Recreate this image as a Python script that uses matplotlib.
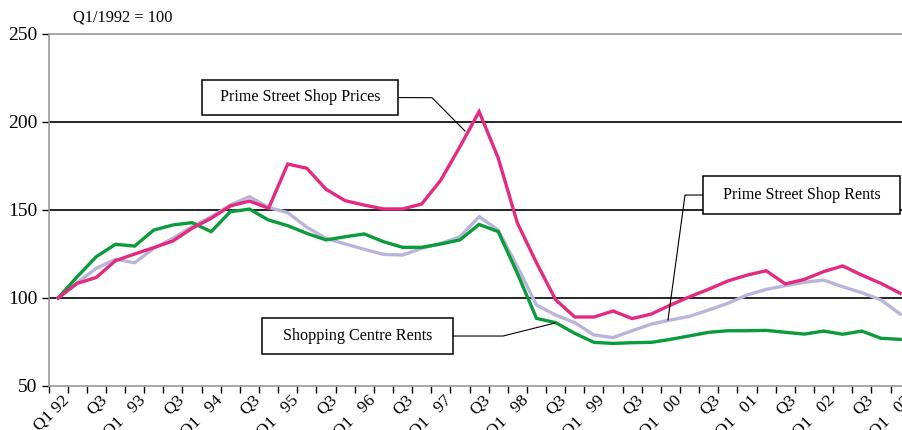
import numpy as np
import matplotlib.pyplot as plt
from matplotlib.patches import Rectangle

plt.rcParams['font.family'] = ['Liberation Serif', 'DejaVu Serif']

# quarterly index values, Q1 1992 .. Q1 2003 (Q1/1992 = 100)
shop_prices = [100, 108.3, 111.7, 121.2, 125, 128.6, 132.4, 139.6, 145.3, 152.3,
               155.1, 151, 176.1, 173.7, 161.8, 155.3, 152.8, 150.6, 150.6, 153.4,
               167, 186, 205.9, 179.5, 142.6, 120, 99, 89.2, 89.2, 92.6,
               88.3, 90.9, 96, 100.7, 105, 109.7, 113, 115.5, 108, 110.6,
               115, 118.2, 113, 108.3, 102.7]
shop_rents = [100, 108.7, 116.9, 122, 120, 128.2, 133.9, 140.5, 146.2, 152.8,
              157.6, 151.5, 148.5, 140.2, 133.9, 130.7, 127.7, 124.8, 124.4, 128.2,
              131, 134.8, 146.2, 138.6, 117.8, 96, 90.3, 86, 79, 77.5,
              81.4, 85.2, 87.5, 89.6, 93.2, 97, 101.7, 104.9, 107, 108.9,
              110.2, 106.4, 103, 98.9, 90.9]
centre_rents = [100, 112.1, 123.5, 130.5, 129.5, 138.6, 141.5, 142.8, 137.7, 149,
                150.5, 144.3, 141.1, 136.7, 133, 134.8, 136.4, 132, 128.8, 128.8,
                130.7, 133, 141.8, 137.7, 114, 88.4, 86, 79.9, 74.8, 74.2,
                74.6, 74.8, 76.5, 78.5, 80.5, 81.4, 81.4, 81.6, 80.5, 79.5,
                81.2, 79.4, 81.2, 77.1, 76.5]

years = ['92', '93', '94', '95', '96', '97', '98', '99', '00', '01', '02', '03']
tick_labels = []
for k, yr in enumerate(years):
    tick_labels.append('Q1 ' + yr if k == 0 else 'Q1   ' + yr)
    if k < len(years) - 1:
        tick_labels.append('Q3')

x = np.arange(len(shop_prices))

fig = plt.figure(figsize=(9.02, 4.30), dpi=100)
# plot area runs a little past the right edge of the image
ax = fig.add_axes([48.5 / 902, 1 - 386 / 430, (909.7 - 48.5) / 902, (386 - 34) / 430])

ax.plot(x, shop_rents, color='#b9b5da', lw=2.4, solid_joinstyle='miter', zorder=3)
ax.plot(x, centre_rents, color='#0b9b3b', lw=2.4, solid_joinstyle='miter', zorder=4)
ax.plot(x, shop_prices, color='#e42a80', lw=2.4, solid_joinstyle='miter', zorder=5)

ax.set_xlim(-0.5, len(x) - 0.5)
ax.set_ylim(50, 250)
ax.set_yticks([50, 100, 150, 200, 250])
ax.set_xticks(np.arange(-0.5, len(x), 1.0))
ax.set_xticklabels([])
ax.tick_params(axis='both', direction='out', length=5, width=1, color='black',
               labelsize=14)
ax.tick_params(axis='y', pad=3)
for v in [100, 150, 200]:
    ax.axhline(v, color='black', lw=1.2, zorder=2)
for side in ['left', 'bottom', 'top']:
    ax.spines[side].set_color('#999999')
    ax.spines[side].set_linewidth(1.2)
ax.spines['right'].set_visible(False)

for i, lab in zip(x[::2], tick_labels):
    ax.text(i + 0.15, 46.5, lab, rotation=45, rotation_mode='anchor',
            ha='right', va='top', fontsize=12.5, clip_on=False)

fig.text(123 / 902, 1 - 18 / 430, 'Q1/1992 = 100', ha='center', va='center',
         fontsize=11.8)

# boxed labels with leader lines
def box_label(x0, x1, y0, y1, text, leader):
    ax.add_patch(Rectangle((x0, y0), x1 - x0, y1 - y0, facecolor='white',
                           edgecolor='black', lw=1.1, zorder=7, clip_on=False))
    ax.text((x0 + x1) / 2, (y0 + y1) / 2, text, ha='center', va='center',
            fontsize=11.6, zorder=8)
    lx, ly = zip(*leader)
    ax.plot(lx, ly, color='black', lw=0.8, zorder=6, clip_on=False)

box_label(7.52, 17.76, 204.0, 223.9, 'Prime Street Shop Prices',
          [(17.76, 213.9), (19.54, 213.8), (21.26, 194.9)])
box_label(33.7, 43.99, 147.7, 169.3, 'Prime Street Shop Rents',
          [(33.7, 158.5), (32.76, 158.5), (31.87, 87.5)])
box_label(10.66, 20.64, 68.2, 88.6, 'Shopping Centre Rents',
          [(20.64, 78.4), (23.25, 78.4), (25.97, 85.8)])

fig.savefig('out.png', dpi=100)
